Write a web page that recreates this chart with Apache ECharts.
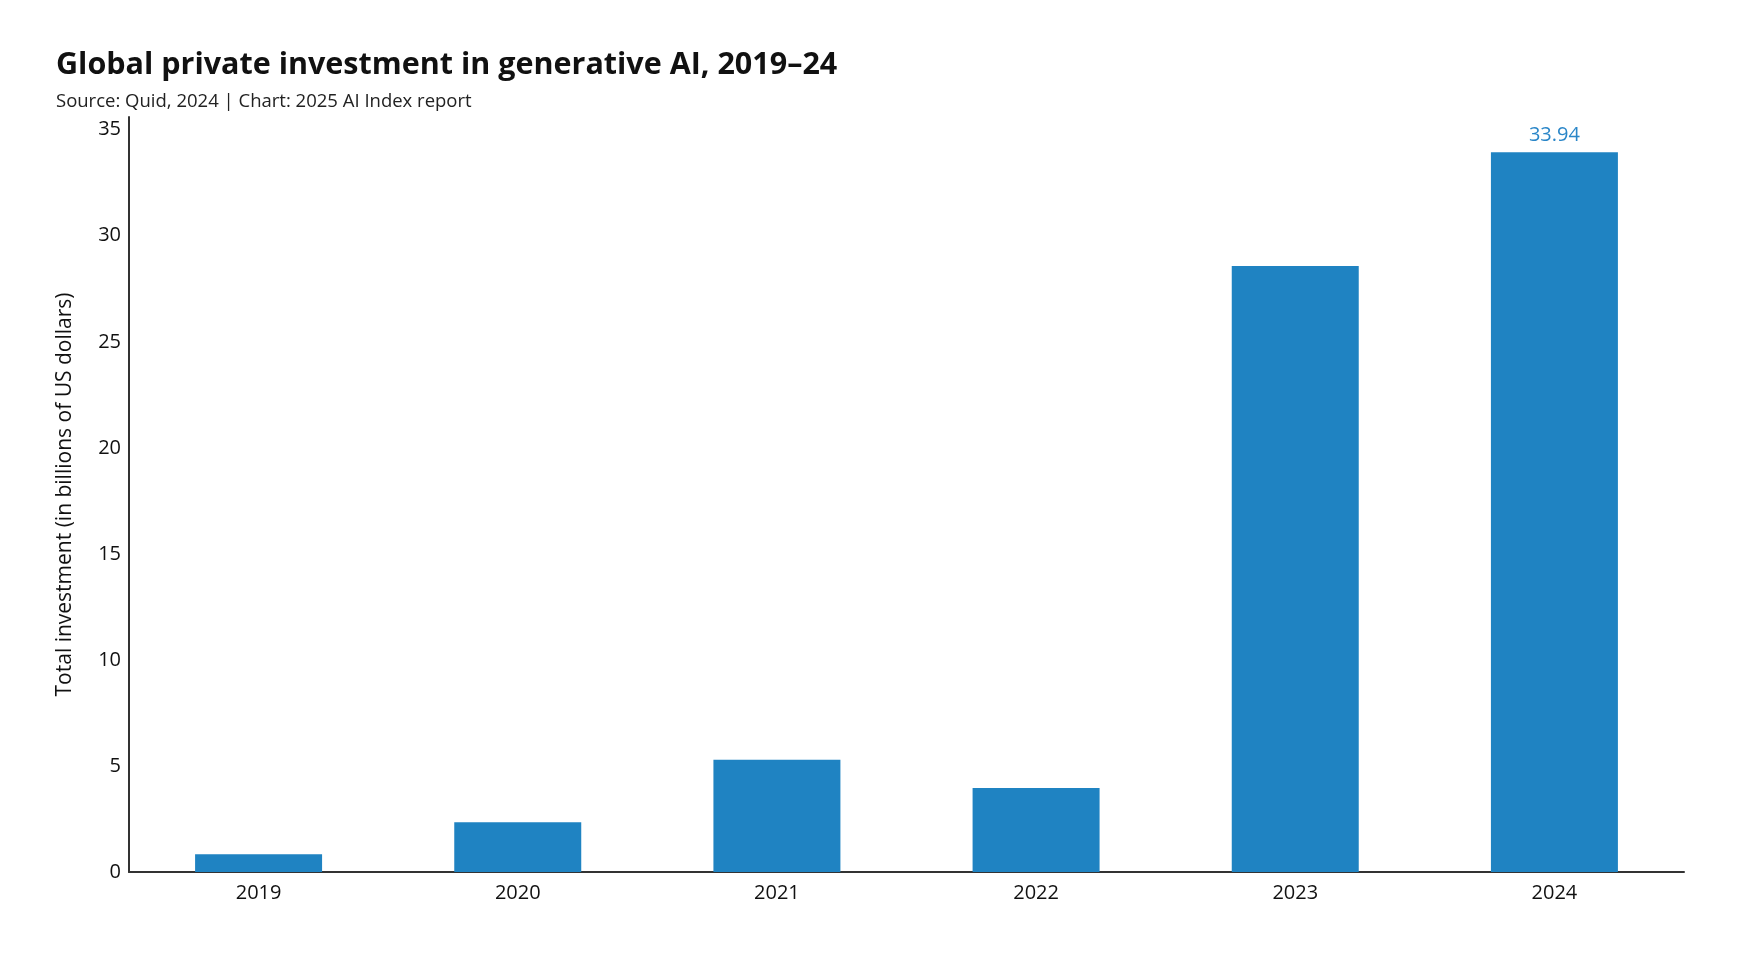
<!DOCTYPE html>
<html>
<head>
<meta charset="utf-8">
<script src="https://cdn.jsdelivr.net/npm/echarts@6/dist/echarts.min.js"></script>
<style>html,body{margin:0;padding:0;background:#fff;}#c{width:1740px;height:968px;}</style>
</head>
<body>
<div id="c"></div>
<script>
const categories = ['2019', '2020', '2021', '2022', '2023', '2024'];
const investment = [0.84, 2.35, 5.29, 3.96, 28.57, 33.94];
const yTicks = [0, 5, 10, 15, 20, 25, 30, 35];

const chart = echarts.init(document.getElementById('c'));
const font = '"Open Sans", "Noto Sans", sans-serif';
chart.setOption({
  backgroundColor: '#ffffff',
  animation: false,
  title: {
    text: 'Global private investment in generative AI, 2019–24',
    subtext: 'Source: Quid, 2024 | Chart: 2025 AI Index report',
    left: 51, top: 45,
    itemGap: 11,
    textStyle: { fontFamily: font, fontSize: 30.5, fontWeight: 'bold', color: '#111' },
    subtextStyle: { fontFamily: font, fontSize: 18.5, color: '#222' }
  },
  grid: { left: 129, right: 56, top: 117, bottom: 96 },
  xAxis: {
    type: 'category',
    data: categories,
    axisLine: { lineStyle: { color: '#333', width: 2 } },
    axisTick: { show: false },
    axisLabel: { fontFamily: font, fontSize: 20, color: '#111', margin: 11 }
  },
  yAxis: {
    type: 'value',
    min: 0, max: 35.6, interval: 5,
    name: 'Total investment (in billions of US dollars)',
    nameLocation: 'middle', nameGap: 53,
    nameTextStyle: { fontFamily: font, fontSize: 21, color: '#111' },
    axisLine: { show: true, lineStyle: { color: '#333', width: 2 } },
    axisTick: { show: false },
    splitLine: { show: false },
    axisLabel: {
      fontFamily: font, fontSize: 20, color: '#111', margin: 8,
      formatter: v => yTicks.includes(v) ? String(v) : ''
    }
  },
  series: [{
    type: 'bar',
    data: investment.map((v, i) => i === investment.length - 1
      ? { value: v, label: { show: true, position: 'top', distance: 7, color: '#2a86c8', fontFamily: font, fontSize: 20, formatter: p => p.value.toFixed(2) } }
      : v),
    barWidth: '49%',
    itemStyle: { color: '#1f83c2' }
  }]
});
</script>
</body>
</html>
